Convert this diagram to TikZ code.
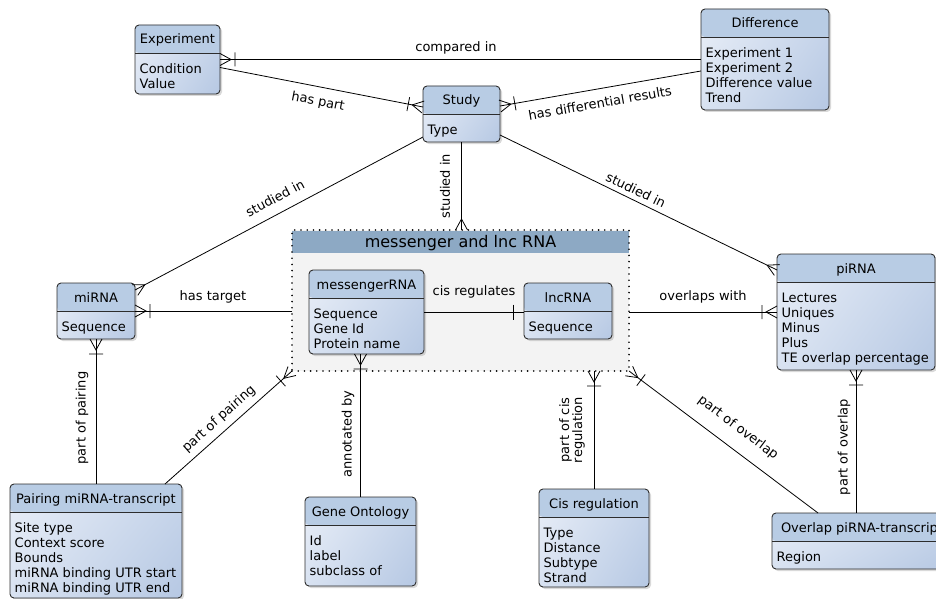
\documentclass[tikz,border=0pt]{standalone}
\usepackage{fontspec}
\setmainfont{DejaVu Sans}
\usetikzlibrary{shadows,shadings,decorations.markings}

\definecolor{enthead}{RGB}{184,204,228}
\definecolor{entlight}{RGB}{234,239,248}
\definecolor{entmidA}{RGB}{216,226,241}
\definecolor{entmidB}{RGB}{200,214,235}
\definecolor{entdark}{RGB}{182,200,227}
\definecolor{entborder}{RGB}{45,45,45}
\definecolor{grphead}{RGB}{141,169,196}
\definecolor{grpfill}{RGB}{243,243,243}

\tikzset{
  entity/.style={draw=entborder, line width=0.9pt, rounded corners=4pt,
    inner sep=0pt, outer sep=0pt,
    drop shadow={shadow xshift=2pt, shadow yshift=-2pt, opacity=0.3},
    path picture={
      \shade[upper left=entlight, lower left=entmidA, upper right=entmidB, lower right=entdark]
        (path picture bounding box.south west) rectangle (path picture bounding box.north east);
      \fill[enthead] (path picture bounding box.north west)
        rectangle ([yshift=-28pt]path picture bounding box.north east);
    }},
  entsep/.style={draw=entborder, line width=0.9pt},
  enttitle/.style={font=\fontsize{13}{15}\selectfont, inner sep=0pt},
  entbody/.style={font=\fontsize{13}{15}\selectfont, inner sep=0pt, align=left},
  grpbox/.style={fill=grpfill, draw=black, line width=1.8pt, line cap=round,
    dash pattern=on 0pt off 6.2pt, inner sep=0pt, outer sep=0pt,
    path picture={
      \fill[grphead] ([yshift=-1pt]path picture bounding box.north west)
        rectangle ([yshift=-23pt]path picture bounding box.north east);
    }},
  grptitle/.style={font=\fontsize{16}{18}\selectfont, inner sep=0pt},
  lbl/.style={font=\fontsize{13}{13}\selectfont, inner sep=0pt, align=center},
  rel/.style={draw=black, line width=0.8pt},
  many/.style={rel, postaction={decorate, decoration={markings,
    mark=at position 1 with {\draw[rel] (0pt,6pt) -- (-11pt,0pt) -- (0pt,-6pt);}}}},
  onemany/.style={rel, postaction={decorate, decoration={markings,
    mark=at position 1 with {\draw[rel] (0pt,6pt) -- (-11pt,0pt) -- (0pt,-6pt)
      (-15pt,7pt) -- (-15pt,-7pt);}}}},
  one/.style={rel, postaction={decorate, decoration={markings,
    mark=at position 1 with {\draw[rel] (-11pt,7.5pt) -- (-11pt,-7.5pt);}}}},
}

% name, north west corner, width, height, title, attributes
\newcommand{\erentity}[6]{%
  \node[entity, minimum width=#3pt, minimum height=#4pt, anchor=north west] (#1) at #2 {};
  \draw[entsep] ([yshift=-28pt]#1.north west) -- ([yshift=-28pt]#1.north east);
  \node[enttitle, anchor=base] (#1-t) at ([yshift=-19pt]#1.north) {#5};
  \node[entbody, anchor=north west] (#1-b) at ([xshift=4.5pt,yshift=-37pt]#1.north west)
    {\rule{0pt}{11pt}#6};
}

\begin{document}
\begin{tikzpicture}[x=1pt, y=-1pt]
\useasboundingbox (0,0) rectangle (936,599);
\clip (0,0) rectangle (936,599);

% group
\node[grpbox, minimum width=337pt, minimum height=141pt, anchor=north west] (grp) at (292,230) {};
\node[grptitle, anchor=base] (grp-t) at ([yshift=-17pt]grp.north) {messenger and lnc RNA};

% entities
\erentity{expt}{(135,25)}{85}{69}{Experiment}{Condition\\Value}
\erentity{diff}{(701,9)}{128}{101}{Difference}{Experiment 1\\Experiment 2\\Difference value\\Trend}
\erentity{study}{(423,86)}{77}{56}{Study}{Type}
\erentity{mirna}{(57,283)}{78}{56}{miRNA}{Sequence}
\erentity{mrna}{(309,270)}{115}{84}{messengerRNA}{Sequence\\Gene Id\\Protein name}
\erentity{lnc}{(524,283)}{88}{56}{lncRNA}{Sequence}
\erentity{pirna}{(777,254)}{158}{116}{piRNA}{Lectures\\Uniques\\Minus\\Plus\\TE overlap percentage}
\erentity{pair}{(10,484)}{172}{114}{Pairing miRNA-transcript}{Site type\\Context score\\Bounds\\miRNA binding UTR start\\miRNA binding UTR end}
\erentity{gont}{(305,497)}{111}{89}{Gene Ontology}{Id\\label\\subclass of}
\erentity{cisreg}{(539,489)}{110}{98}{Cis regulation}{Type\\Distance\\Subtype\\Strand}
\erentity{ovl}{(772,513)}{180}{56}{Overlap piRNA-transcript}{Region}

% relations
\draw[onemany] (diff.west) -- (expt.east);
\draw[onemany] ([yshift=-8pt]expt.east) -- ([yshift=7pt]study.west);
\draw[onemany] ([yshift=-11.5pt]diff.west) -- ([yshift=8pt]study.east);
\draw[many] ([yshift=-23pt]study.west) -- ([yshift=21pt]mirna.east);
\draw[many] (study.south) -- (study.south |- grp.north);
\draw[many] ([yshift=-21pt]study.east) -- ([yshift=42pt]pirna.west);
\draw[onemany] (grp.west |- mirna.east) -- (mirna.east);
\draw[one] (mrna.east) -- (lnc.west |- mrna.east);
\draw[onemany] (grp.east |- pirna.west) -- (pirna.west);
\draw[onemany] (pair.north) -- (mirna.south);
\draw[onemany] ([xshift=-17pt]pair.north east) -- (grp.south west);
\draw[onemany] (gont.north) -- (gont.north |- mrna.south);
\draw[onemany] (cisreg.north) -- (cisreg.north |- grp.south);
\draw[onemany] ([xshift=46pt]ovl.north west) -- (grp.south east);
\draw[onemany] (pirna.south |- ovl.north) -- (pirna.south);

% labels
\node[lbl] (l-cmp) at (456,48) {compared in};
\node[lbl, rotate=-10.9] (l-part) at (318,102) {has part};
\node[lbl, rotate=10] (l-diffres) at (600,103) {has differential results};
\node[lbl, rotate=28] (l-stmi) at (275,198) {studied in};
\node[lbl, rotate=90] (l-stgrp) at (445,186) {studied in};
\node[lbl, rotate=-25.6] (l-stpi) at (636,190) {studied in};
\node[lbl] (l-tgt) at (213,297) {has target};
\node[lbl] (l-cis) at (474,292) {cis regulates};
\node[lbl] (l-ovw) at (703,297) {overlaps with};
\node[lbl, rotate=90] (l-pp1) at (82,418) {part of pairing};
\node[lbl, rotate=41.7] (l-pp2) at (219,419) {part of pairing};
\node[lbl, rotate=90] (l-ann) at (348,434) {annotated by};
\node[lbl, rotate=90] (l-pcr) at (572,430) {part of cis\\regulation};
\node[lbl, rotate=-36.9] (l-po1) at (738,428) {part of overlap};
\node[lbl, rotate=90] (l-po2) at (844,447) {part of overlap};
\end{tikzpicture}
\end{document}
